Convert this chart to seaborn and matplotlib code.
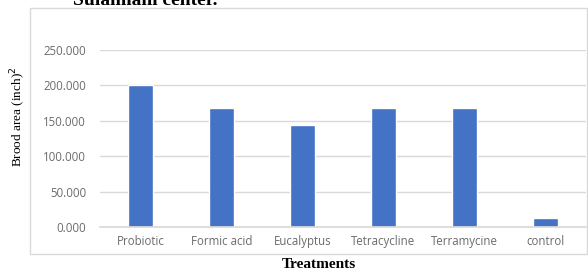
import matplotlib
matplotlib.use("Agg")
import matplotlib.pyplot as plt
import seaborn as sns
import pandas as pd
from matplotlib.patches import Rectangle
from matplotlib.ticker import FuncFormatter

treatments = ["Probiotic", "Formic acid", "Eucalyptus", "Tetracycline", "Terramycine", "control"]
brood_area = [200.0, 168.0, 144.0, 167.5, 167.5, 13.0]
y_ticks = [0, 50, 100, 150, 200, 250]

df = pd.DataFrame({"Treatment": treatments, "Area": brood_area})

sns.set_theme(style="white")
plt.rcParams["font.family"] = ["Open Sans", "DejaVu Sans"]

fig = plt.figure(figsize=(5.88, 2.71), dpi=100)
ax = fig.add_axes([100 / 588, 1 - 227 / 271, 486 / 588, (227 - 50) / 271])

sns.barplot(data=df, x="Treatment", y="Area", color="#4472C4", width=0.31,
            saturation=1, ax=ax)

ax.set_ylim(0, 250)
ax.set_yticks(y_ticks)
ax.yaxis.set_major_formatter(FuncFormatter(lambda v, p: f"{v:.3f}"))
ax.grid(axis="y", color="#d9d9d9", linewidth=1)
ax.set_axisbelow(True)
for s in ax.spines.values():
    s.set_visible(False)
ax.spines["bottom"].set_visible(True)
ax.spines["bottom"].set_color("#d9d9d9")
ax.tick_params(axis="both", length=0, labelsize=8.3, colors="#6b6b6b")
ax.tick_params(axis="y", pad=10)
ax.tick_params(axis="x", pad=6)
ax.set_xlabel("")
ax.set_ylabel("")

# chart border
fig.patches.append(Rectangle((30 / 588, 1 - 254 / 271), 557 / 588, 246 / 271,
                             transform=fig.transFigure, fill=False,
                             edgecolor="#d9d9d9", linewidth=1))

fig.text(18 / 588, 1 - 117 / 271, "Brood area (inch)$^2$", rotation=90,
         ha="center", va="center", fontsize=9.5, family="Liberation Serif",
         color="black")
fig.text(319 / 588, 1 - 265 / 271, "Treatments", ha="center", va="center",
         fontsize=11, family="Liberation Serif", fontweight="bold", color="black")
fig.text(73 / 588, 1 - 5 / 271, "Sulaimani center.", ha="left", va="baseline",
         fontsize=14, family="Liberation Serif", fontweight="bold", color="black")

fig.savefig("out.png", dpi=100)
